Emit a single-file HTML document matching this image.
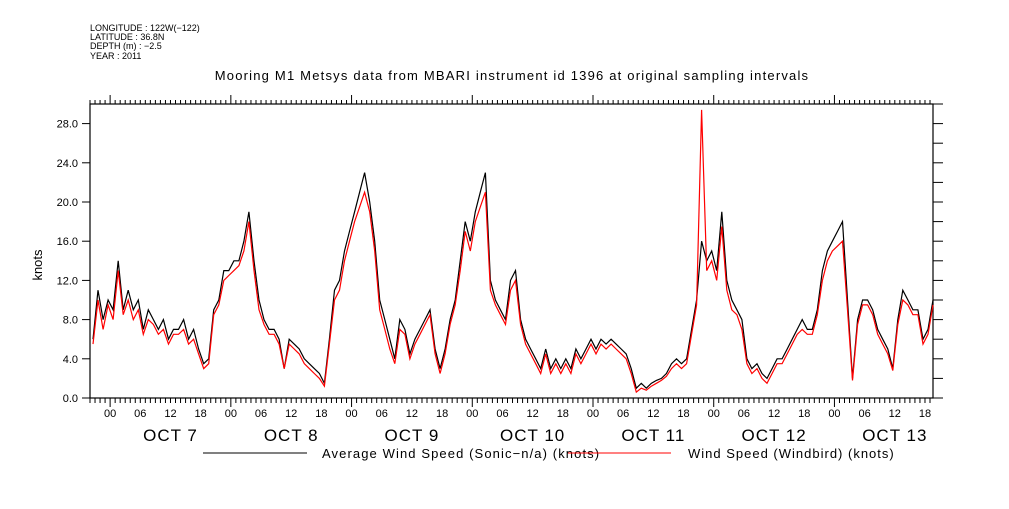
<!DOCTYPE html>
<html><head><meta charset="utf-8"><style>
body{margin:0;background:#fff;width:1009px;height:504px;overflow:hidden;font-family:"Liberation Sans","DejaVu Sans",sans-serif}
svg text{font-family:"Liberation Sans","DejaVu Sans",sans-serif}
</style></head><body>
<svg id="chart" width="1009" height="504" viewBox="0 0 1009 504" xmlns="http://www.w3.org/2000/svg">
<g font-size="9" fill="#000">
<text x="90" y="31">LONGITUDE : 122W(−122)</text>
<text x="90" y="40">LATITUDE : 36.8N</text>
<text x="90" y="49">DEPTH (m) : −2.5</text>
<text x="90" y="59">YEAR : 2011</text>
</g>
<text x="512" y="80" font-size="13" letter-spacing="1.2" text-anchor="middle">Mooring M1 Metsys data from MBARI instrument id 1396 at original sampling intervals</text>
<text x="42" y="265" font-size="13" text-anchor="middle" transform="rotate(-90 42 265)">knots</text>
<g id="axes"></g>
<g id="series"></g>
<g>
<line x1="203" y1="453" x2="307" y2="453" stroke="#000" stroke-width="1"/>
<text x="322" y="458" font-size="13" letter-spacing="1.1">Average Wind Speed (Sonic−n/a) (knots)</text>
<line x1="568" y1="453" x2="671" y2="453" stroke="#f00" stroke-width="1"/>
<text x="688" y="458" font-size="13" letter-spacing="1">Wind Speed (Windbird) (knots)</text>
</g>
</svg>
<script>
const yTicks=[0,4,8,12,16,20,24,28];
const yTickLabels=["0.0","4.0","8.0","12.0","16.0","20.0","24.0","28.0"];
const hourLabels=["00","06","12","18"];
const dayLabels=["OCT   7","OCT   8","OCT   9","OCT 10","OCT 11","OCT 12","OCT 13"];
const startOffsetHours=0.6;
const averageSonic=[6,11,8,10,9,14,9,11,9,10,7,9,8,7,8,6,7,7,8,6,7,5,3.5,4,9,10,13,13,14,14,16,19,14,10,8,7,7,6,3,6,5.5,5,4,3.5,3,2.5,1.5,6,11,12,15,17,19,21,23,20,16,10,8,6,4,8,7,4.5,6,7,8,9,5,3,5,8,10,14,18,16,19,21,23,12,10,9,8,12,13,8,6,5,4,3,5,3,4,3,4,3,5,4,5,6,5,6,5.5,6,5.5,5,4.5,3,1,1.5,1,1.5,1.8,2,2.5,3.5,4,3.5,4,7,10,16,14,15,13,19,12,10,9,8,4,3,3.5,2.5,2,3,4,4,5,6,7,8,7,7,9,13,15,16,17,18,10,2,8,10,10,9,7,6,5,3,8,11,10,9,9,6,7,10];
const windbird=[5.5,10,7,9.5,8,13,8.5,10,8,9,6.5,8,7.5,6.5,7,5.5,6.5,6.5,7,5.5,6,4.5,3,3.5,8.5,9.5,12,12.5,13,13.5,15,18,13,9,7.5,6.5,6.5,5.5,3,5.5,5,4.5,3.5,3,2.5,2,1.2,5.5,10,11,14,16,18,19.5,21,19,15,9,7,5,3.5,7,6.5,4,5.5,6.5,7.5,8.5,4.5,2.5,4.5,7.5,9.5,13,17,15,18,19.5,21,11,9.5,8.5,7.5,11,12,7.5,5.5,4.5,3.5,2.5,4.5,2.5,3.5,2.5,3.5,2.5,4.5,3.5,4.5,5.5,4.5,5.5,5,5.5,5,4.5,4,2.5,0.6,1,0.8,1.2,1.5,1.8,2.2,3,3.5,3,3.5,6.5,9.5,29.4,13,14,12,17.5,11,9,8.5,7,3.5,2.5,3,2,1.5,2.5,3.5,3.5,4.5,5.5,6.5,7,6.5,6.5,8.5,12,14,15,15.5,16,9,1.8,7.5,9.5,9.5,8.5,6.5,5.5,4.5,2.8,7.5,10,9.5,8.5,8.5,5.5,6.5,9.5];

const NS="http://www.w3.org/2000/svg";
const X0=90,X1=933,Y0=398,Y1=104;
const pxPerHour=5.03, yMax=30;
function xScale(h){return X0+h*pxPerHour;}
function yScale(v){return Y0-(v/yMax)*(Y0-Y1);}
function mk(tag,attrs,parent){const e=document.createElementNS(NS,tag);for(const k in attrs)e.setAttribute(k,attrs[k]);parent.appendChild(e);return e;}
const axes=document.getElementById('axes');
const frame=mk('rect',{x:X0,y:Y1,width:X1-X0,height:Y0-Y1,fill:'none',stroke:'#000','stroke-width':1.2},axes);


yTicks.forEach((v,i)=>{
  const y=yScale(v);
  const t=mk('line',{x1:X0-8,y1:y,x2:X0,y2:y,stroke:'#000'},axes);
  
  
  const lb=mk('text',{x:X0-12,y:y+4,'font-size':11,'text-anchor':'end'},axes);
  lb.textContent=yTickLabels[i];
  
  
});
for(let v=0;v<=yMax;v+=2){
  const y=yScale(v);
  const t=mk('line',{x1:X1,y1:y,x2:X1+10,y2:y,stroke:'#000'},axes);
  
  
}
for(let h=0;h<=168;h++){
  const x=xScale(h); if(x>X1+0.5)break;
  const clock=(h+20)%24;
  const major=clock===0;
  const b=mk('line',{x1:x,y1:Y0,x2:x,y2:Y0+(major?9:5),stroke:'#000'},axes);
  
  
  const t=mk('line',{x1:x,y1:Y1,x2:x,y2:Y1-(major?9:4),stroke:'#000'},axes);
  
  
  if(clock%6===0){
    const lb=mk('text',{x:x,y:417,'font-size':11,'text-anchor':'middle'},axes);
    lb.textContent=hourLabels[clock/6];
    
    
  }
}
dayLabels.forEach((d,i)=>{
  const x=xScale(4+12+24*i);
  const lb=mk('text',{x:x,y:441,'font-size':17,'letter-spacing':1,'text-anchor':'middle','xml:space':'preserve'},axes);
  lb.textContent=d;
  
  
});
const series=document.getElementById('series');
function drawLine(vals,color,name){
  const pts=vals.map((v,i)=>xScale(startOffsetHours+i).toFixed(1)+','+yScale(v).toFixed(1)).join(' ');
  const p=mk('polyline',{points:pts,fill:'none',stroke:color,'stroke-width':1.2},series);
  
  
}
drawLine(averageSonic,'#000','line-average-sonic');
drawLine(windbird,'#f00','line-windbird');
</script>
</body></html>
